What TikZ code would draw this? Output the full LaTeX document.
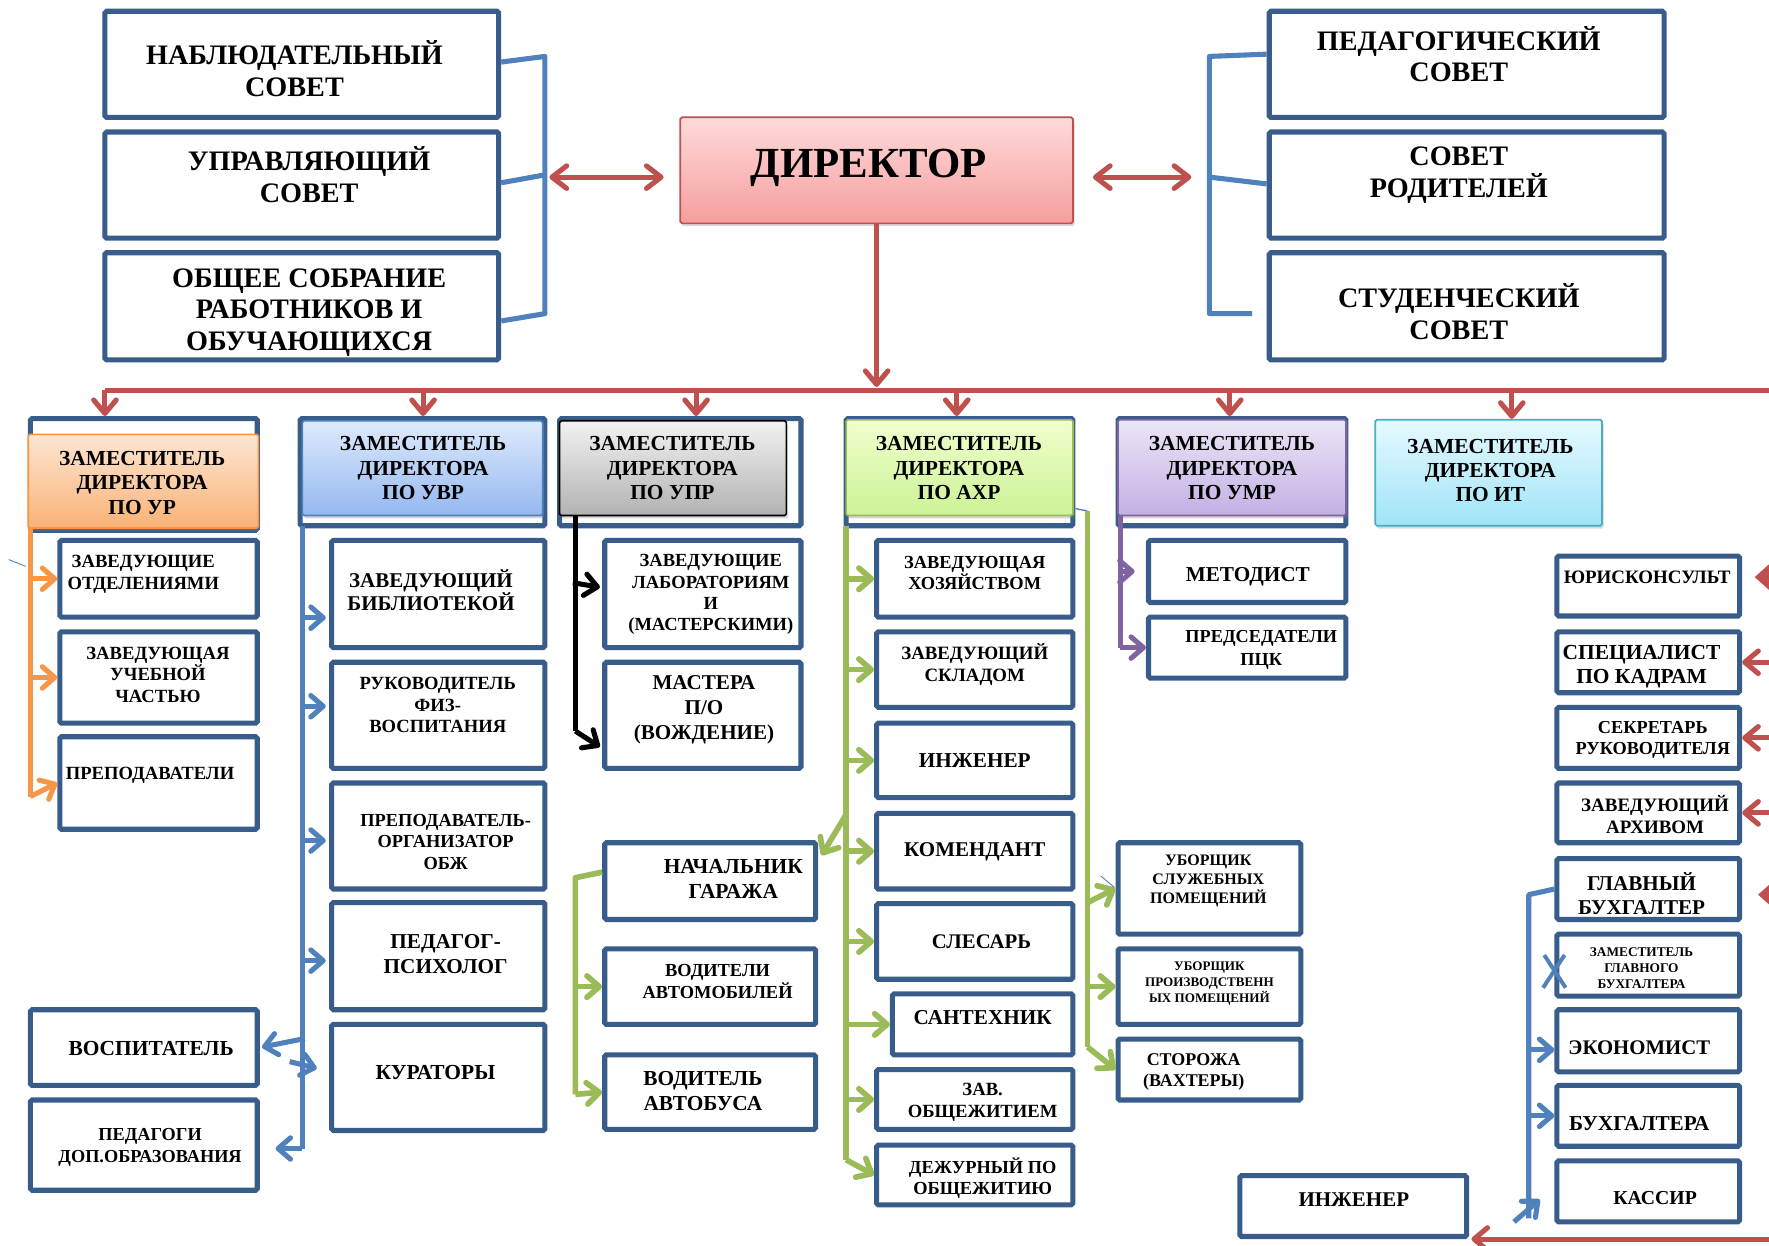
\documentclass[tikz,border=0pt]{standalone}
\usepackage{fontspec}
\setmainfont{Liberation Serif}
\usetikzlibrary{arrows.meta,calc,shadows}
\definecolor{boxc}{RGB}{56,93,138}
\definecolor{bluel}{RGB}{79,129,189}
\definecolor{redl}{RGB}{192,80,77}
\definecolor{orl}{RGB}{247,150,70}
\definecolor{grl}{RGB}{155,187,89}
\definecolor{purl}{RGB}{128,100,162}
\definecolor{cyl}{RGB}{75,172,198}
\definecolor{ur1}{RGB}{253,230,212}\definecolor{ur2}{RGB}{250,178,118}
\definecolor{uv1}{RGB}{222,234,252}\definecolor{uv2}{RGB}{148,184,240}
\definecolor{gy1}{RGB}{242,242,242}\definecolor{gy2}{RGB}{178,178,178}
\definecolor{ax1}{RGB}{240,255,205}\definecolor{ax2}{RGB}{204,242,150}
\definecolor{um1}{RGB}{236,229,246}\definecolor{um2}{RGB}{194,176,228}
\definecolor{it1}{RGB}{230,249,254}\definecolor{it2}{RGB}{160,228,248}
\definecolor{dr1}{RGB}{255,218,218}\definecolor{dr2}{RGB}{245,158,158}
\newcommand\fs[2]{\fontsize{#1}{#2}\selectfont\bfseries}
\newcommand\bx[6][box]{\node[bxbase,#1,minimum width={#5-#3},minimum height={#6-#4}] (#2) at ({(#3+#5)/2},{(#4+#6)/2}) {};}
\newcommand\tx[5][]{\node[txt,#1] (#2) at (#3,#4) {#5};}
\tikzset{
  bxbase/.style={inner sep=0pt, rounded corners=1.5pt},
  box/.style={draw=boxc, line width=4.5pt, fill=white},
  txt/.style={align=center, inner sep=0pt, text=black},
  arrb/.style={-{Straight Barb[length=11pt,width=19pt,round]}},
  rarr/.style={-{Straight Barb[length=12pt,width=20pt,round]}},
  red2/.style={draw=redl, line width=4.5pt, {Straight Barb[length=13pt,width=20pt,round]}-{Straight Barb[length=13pt,width=20pt,round]}},
  bline/.style={draw=bluel, line width=4.5pt, line join=round},
  rline/.style={draw=redl, line width=4.5pt, line join=round},
  oline/.style={draw=orl, line width=4.5pt, line join=round},
  gline/.style={draw=grl, line width=5pt, line join=round},
  kline/.style={draw=black, line width=4.5pt, line join=round},
  pline/.style={draw=purl, line width=4.5pt, line join=round},
  dep/.style={line width=1.5pt, drop shadow={opacity=0.3,shadow xshift=1.5pt,shadow yshift=-2.5pt}},
  ursty/.style={dep, draw=orl, top color=ur1, bottom color=ur2},
  uvsty/.style={dep, draw=bluel, top color=uv1, bottom color=uv2},
  gysty/.style={dep, draw=black, top color=gy1, bottom color=gy2},
  axsty/.style={dep, draw=grl, top color=ax1, bottom color=ax2},
  umsty/.style={dep, draw=purl, top color=um1, bottom color=um2},
  itsty/.style={dep, draw=cyl, top color=it1, bottom color=it2},
  dirsty/.style={dep, draw=redl, top color=dr1, bottom color=dr2},
  deptx/.style={font=\fs{19}{21.5}},
  bigtx/.style={font=\fs{25}{28}},
}
\begin{document}
\begin{tikzpicture}[x=1pt,y=-1pt]
\useasboundingbox (0,0) rectangle (1568,1104);
\fill[white] (0,0) rectangle (1568,1104);

% ---------- top boxes ----------
\bx{nab}{93}{10}{442}{104}
\tx[bigtx]{nabt}{261}{61}{НАБЛЮДАТЕЛЬНЫЙ\\СОВЕТ}
\bx{upc}{93}{117}{442}{211}
\tx[bigtx]{upct}{274}{155}{УПРАВЛЯЮЩИЙ\\СОВЕТ}
\bx{obs}{93}{224}{442}{319}
\tx[bigtx]{obst}{274}{277}{ОБЩЕЕ СОБРАНИЕ\\РАБОТНИКОВ И\\ОБУЧАЮЩИХСЯ}
\bx{ped}{1125}{10}{1475}{104}
\tx[bigtx]{pedt}{1293}{48}{ПЕДАГОГИЧЕСКИЙ\\СОВЕТ}
\bx{rod}{1125}{117}{1475}{211}
\tx[bigtx]{rodt}{1293}{155}{СОВЕТ\\РОДИТЕЛЕЙ}
\bx{stu}{1125}{224}{1475}{319}
\tx[bigtx]{stut}{1293}{276}{СТУДЕНЧЕСКИЙ\\СОВЕТ}

\bx[dirsty]{dir}{603}{104}{951}{198}
\tx[font=\fs{38}{40}]{dirt}{770}{149}{ДИРЕКТОР}

% brackets
\coordinate (lb1) at (483,50);
\coordinate (lb2) at (483,155);
\coordinate (lb3) at (483,278);
\draw[bline] ($(nab.east)+(0,-2)$) -- (lb1) -- (lb3) -- ($(obs.east)+(0,13)$);
\draw[bline] ($(upc.east)+(0,-2)$) -- (lb2);
\draw[red2] ($(lb2)+(4,2)$) -- ($(dir.west)+(-14,6)$);

\coordinate (rb1) at (1072,50);
\coordinate (rb2) at (1072,157);
\coordinate (rb3) at (1072,278);
\draw[bline] ($(ped.west)+(0,-9)$) -- (rb1) -- (rb3) -- ($(stu.west)+(-13,6.5)$);
\draw[bline] ($(rod.west)+(0,-1)$) -- (rb2);
\draw[red2] ($(dir.east)+(17,6)$) -- ($(rb2)+(-16,0)$);

% ---------- deputies ----------
\bx{urf}{27}{371}{228}{470}
\bx[ursty]{ur}{25}{385}{229}{468}
\tx[deptx]{urt}{126}{428}{ЗАМЕСТИТЕЛЬ\\ДИРЕКТОРА\\ПО УР}

\bx{uvrf}{266}{371}{483}{466}
\bx[uvsty]{uvr}{268}{373}{481}{457}
\tx[deptx]{uvrt}{375}{415}{ЗАМЕСТИТЕЛЬ\\ДИРЕКТОРА\\ПО УВР}

\bx{uprf}{496}{371}{710}{466}
\bx[gysty]{upr}{496}{373}{697}{457}
\tx[deptx]{uprt}{596}{415}{ЗАМЕСТИТЕЛЬ\\ДИРЕКТОРА\\ПО УПР}

\bx{axrf}{750}{371}{951}{466}
\bx[axsty]{axr}{750}{372}{951}{457}
\tx[deptx]{axrt}{850}{415}{ЗАМЕСТИТЕЛЬ\\ДИРЕКТОРА\\ПО АХР}

\bx{umrf}{991}{371}{1193}{466}
\bx[umsty]{umr}{991}{372}{1193}{457}
\tx[deptx]{umrt}{1092}{415}{ЗАМЕСТИТЕЛЬ\\ДИРЕКТОРА\\ПО УМР}

\bx[itsty]{it}{1219}{372}{1420}{466}
\tx[deptx]{itt}{1321}{417}{ЗАМЕСТИТЕЛЬ\\ДИРЕКТОРА\\ПО ИТ}

% red bus
\coordinate (bj) at (777,346);
\coordinate (b1) at (93,346);
\coordinate (b2) at (375,346);
\coordinate (b3) at (617,346);
\coordinate (b4) at (848,346);
\coordinate (b5) at (1090,346);
\coordinate (b6) at (1340,346);
\coordinate (bR) at (1600,346);
\draw[rline] (b1) -- (bR);
\draw[rline,rarr] (dir.south) -- ($(bj)+(0,-3)$);
\draw[rline,rarr] (b1) -- (b1 |- urf.north);
\draw[rline,rarr] (b2) -- (b2 |- uvrf.north);
\draw[rline,rarr] (b3) -- (b3 |- uprf.north);
\draw[rline,rarr] (b4) -- (b4 |- axrf.north);
\draw[rline,rarr] (b5) -- (b5 |- umrf.north);
\draw[rline,rarr] (b6) -- (b6 |- it.north);

% ---------- УР ----------
\bx{zo}{53}{479}{228}{547}
\tx[font=\fs{16.5}{19}]{zot}{127}{509}{ЗАВЕДУЮЩИЕ\\ОТДЕЛЕНИЯМИ}
\bx{zu}{53}{560}{228}{641}
\tx[font=\fs{16.5}{19}]{zut}{140}{598}{ЗАВЕДУЮЩАЯ\\УЧЕБНОЙ\\ЧАСТЬЮ}
\bx{pr}{53}{653}{228}{735}
\tx[font=\fs{16.5}{19}]{prt}{133}{687}{ПРЕПОДАВАТЕЛИ}
\coordinate (oT) at (27,468);
\coordinate (oB) at (27,706);
\draw[oline] (oT) -- (oB);
\draw[oline,arrb] (oT |- zo.west) -- (zo.west);
\draw[oline,arrb] (oT |- zu.west) -- (zu.west);
\draw[oline,arrb] (oB) -- (pr.west);
\draw[bluel,line width=0.8pt] ($(zo.west)+(-43,-17)$) -- ($(zo.west)+(-28,-11)$);

% ---------- УВР ----------
\bx{bib}{294}{479}{483}{574}
\tx[font=\fs{18.6}{21}]{bibt}{382}{523}{ЗАВЕДУЮЩИЙ\\БИБЛИОТЕКОЙ}
\bx{fiz}{294}{587}{483}{681}
\tx[font=\fs{16.5}{19}]{fizt}{388}{625}{РУКОВОДИТЕЛЬ\\ФИЗ-\\ВОСПИТАНИЯ}
\bx{obz}{294}{694}{483}{788}
\tx[font=\fs{16.3}{19}]{obzt}{395}{746}{ПРЕПОДАВАТЕЛЬ-\\ОРГАНИЗАТОР\\ОБЖ}
\bx{psy}{294}{800}{483}{895}
\tx[font=\fs{18.8}{22}]{psyt}{395}{846}{ПЕДАГОГ-\\ПСИХОЛОГ}
\bx{kur}{294}{908}{483}{1002}
\tx[font=\fs{19}{22}]{kurt}{386}{951}{КУРАТОРЫ}
\bx{vos}{27}{895}{228}{962}
\tx[font=\fs{19}{22}]{vost}{134}{929}{ВОСПИТАТЕЛЬ}
\bx{pdo}{27}{975}{228}{1055}
\tx[font=\fs{16.2}{19}]{pdot}{133}{1017}{ПЕДАГОГИ\\ДОП.ОБРАЗОВАНИЯ}
\coordinate (uT) at (268,466);
\coordinate (uB) at (268,1018);
\draw[bline] (uT) -- (uB);
\draw[bline,arrb,shorten >=3pt] ($(bib.west)+(-26,21)$) -- ($(bib.west)+(0,21)$);
\draw[bline,arrb,shorten >=3pt] ($(fiz.west)+(-26,-8)$) -- ($(fiz.west)+(0,-8)$);
\draw[bline,arrb,shorten >=3pt] ($(obz.west)+(-26,4)$) -- ($(obz.west)+(0,4)$);
\draw[bline,arrb,shorten >=3pt] ($(psy.west)+(-26,4)$) -- ($(psy.west)+(0,4)$);
\draw[bline,arrb] ($(kur.west)+(-35,-14)$) -- ($(kur.west)+(-11,-8)$);
\draw[bline,arrb,shorten >=2pt] ($(vos.east)+(40,-8)$) -- (vos.east);
\draw[bline,arrb,shorten >=14pt] (uB) -- ($(pdo.east)+(0,3)$);

% ---------- УПР ----------
\bx{lab}{536}{479}{710}{574}
\tx[font=\fs{16.4}{19}]{labt}{630}{527}{ЗАВЕДУЮЩИЕ\\ЛАБОРАТОРИЯМ\\И\\(МАСТЕРСКИМИ)}
\bx{mas}{536}{587}{710}{681}
\tx[font=\fs{18.7}{22}]{mast}{624}{629}{МАСТЕРА\\П/О\\(ВОЖДЕНИЕ)}
\coordinate (kT) at (510,457);
\coordinate (kB) at (510,648);
\draw[kline] (kT) -- (kB);
\draw[kline,arrb] ($(lab.west)+(-26,-10)$) -- ($(lab.west)+(-2,-6)$);
\draw[kline,arrb] (kB) -- ($(mas.west)+(-2,28)$);

\bx{gar}{536}{747}{723}{815}
\tx[font=\fs{19}{22}]{gart}{650}{779}{НАЧАЛЬНИК\\ГАРАЖА}
\bx{vav}{536}{841}{723}{908}
\tx[font=\fs{16.3}{19}]{vavt}{636}{870}{ВОДИТЕЛИ\\АВТОМОБИЛЕЙ}
\bx{vbu}{536}{935}{723}{1001}
\tx[font=\fs{18.9}{22}]{vbut}{623}{967}{ВОДИТЕЛЬ\\АВТОБУСА}
\coordinate (gT) at (510,778);
\coordinate (gB) at (510,970);
\draw[gline] ($(gar.west)+(0,-8)$) -- (gT) -- (gB);
\draw[gline,arrb] (gT |- vav.west) -- (vav.west);
\draw[gline,arrb] (gB) -- (vbu.west);

% ---------- АХР ----------
\bx{hoz}{777}{479}{951}{547}
\tx[font=\fs{16.3}{19}]{hozt}{864}{508}{ЗАВЕДУЮЩАЯ\\ХОЗЯЙСТВОМ}
\bx{skl}{777}{560}{951}{627}
\tx[font=\fs{16.7}{19}]{sklt}{864}{589}{ЗАВЕДУЮЩИЙ\\СКЛАДОМ}
\bx{ing}{777}{641}{951}{707}
\tx[font=\fs{18.8}{22}]{ingt}{864}{674}{ИНЖЕНЕР}
\bx{kom}{777}{721}{951}{788}
\tx[font=\fs{18.6}{22}]{komt}{864}{755}{КОМЕНДАНТ}
\bx{sle}{777}{801}{951}{868}
\tx[font=\fs{18.4}{22}]{slet}{870}{835}{СЛЕСАРЬ}
\bx{san}{791}{881}{951}{935}
\tx[font=\fs{18.8}{22}]{sant}{871}{902}{САНТЕХНИК}
\bx{zob}{777}{948}{951}{1001}
\tx[font=\fs{16.5}{19}]{zobt}{871}{977}{ЗАВ.\\ОБЩЕЖИТИЕМ}
\bx{dez}{777}{1015}{951}{1068}
\tx[font=\fs{16.3}{19}]{dezt}{871}{1044}{ДЕЖУРНЫЙ ПО\\ОБЩЕЖИТИЮ}
\coordinate (aT) at (750,466);
\coordinate (aB) at (750,1028);
\coordinate (aG) at (750,722);
\draw[gline] (aT) -- (aB);
\draw[gline,arrb] (aT |- hoz.west) -- (hoz.west);
\draw[gline,arrb] (aT |- skl.west) -- (skl.west);
\draw[gline,arrb] (aT |- ing.west) -- (ing.west);
\draw[gline,arrb] (aT |- kom.west) -- (kom.west);
\draw[gline,arrb] (aT |- sle.west) -- (sle.west);
\draw[gline,arrb] (aT |- san.west) -- (san.west);
\draw[gline,arrb] (aT |- zob.west) -- (zob.west);
\draw[gline,arrb] (aB) -- (dez.west);
\draw[gline,arrb] (aG) -- ($(gar.east)+(3,-23)$);

\bx{ubs}{991}{747}{1153}{828}
\tx[font=\fs{14.2}{17}]{ubst}{1071}{781}{УБОРЩИК\\СЛУЖЕБНЫХ\\ПОМЕЩЕНИЙ}
\bx{ubp}{991}{841}{1153}{908}
\tx[font=\fs{11.6}{14}]{ubpt}{1072}{872}{УБОРЩИК\\ПРОИЗВОДСТВЕНН\\ЫХ ПОМЕЩЕНИЙ}
\bx{sto}{991}{921}{1153}{975}
\tx[font=\fs{15.9}{19}]{stot}{1058}{950}{СТОРОЖА\\(ВАХТЕРЫ)}
\coordinate (a2T) at (964,453);
\coordinate (a2B) at (964,928);
\coordinate (a2U) at (964,800);
\draw[bluel,line width=1.2pt] ($(axrf.north east)+(0,82)$) -- (a2T);
\draw[gline] (a2T) -- (a2B);
\draw[gline,arrb] (a2U) -- (ubs.west);
\draw[gline,arrb] (a2T |- ubp.west) -- (ubp.west);
\draw[gline,arrb] (a2B) -- (sto.west);
\draw[bluel,line width=0.8pt] ($(ubs.west)+(-13,-11)$) -- ($(ubs.west)+(-1,-1)$);

% ---------- УМР ----------
\bx{met}{1018}{479}{1193}{534}
\tx[font=\fs{18.8}{22}]{mett}{1106}{511}{МЕТОДИСТ}
\bx{pck}{1018}{547}{1193}{601}
\tx[font=\fs{16.2}{21}]{pckt}{1118}{576}{ПРЕДСЕДАТЕЛИ\\ПЦК}
\coordinate (pT) at (993,457);
\coordinate (pB) at (993,574);
\draw[pline] (pT) -- (pB);
\draw[pline,arrb,shorten >=10pt] (pT |- met.west) -- (met.west);
\draw[pline,arrb] (pB) -- (pck.west);

% ---------- ИТ ----------
\bx{yur}{1380}{493}{1542}{546}
\tx[font=\fs{16.8}{20}]{yurt}{1460}{512}{ЮРИСКОНСУЛЬТ}
\bx{spc}{1380}{560}{1542}{614}
\tx[font=\fs{19}{22}]{spct}{1455}{591}{СПЕЦИАЛИСТ\\ПО КАДРАМ}
\bx{sek}{1380}{627}{1542}{681}
\tx[font=\fs{16.2}{19}]{sekt}{1465}{656}{СЕКРЕТАРЬ\\РУКОВОДИТЕЛЯ}
\bx{arh}{1380}{694}{1542}{747}
\tx[font=\fs{16.8}{19}]{arht}{1467}{722}{ЗАВЕДУЮЩИЙ\\АРХИВОМ}
\bx{glb}{1380}{761}{1542}{815}
\tx[font=\fs{18.7}{22}]{glbt}{1455}{792}{ГЛАВНЫЙ\\БУХГАЛТЕР}
\bx{zgb}{1380}{828}{1542}{883}
\tx[font=\fs{11.8}{14}]{zgbt}{1455}{858}{ЗАМЕСТИТЕЛЬ\\ГЛАВНОГО\\БУХГАЛТЕРА}
\bx{eco}{1380}{895}{1542}{950}
\tx[font=\fs{18.4}{22}]{ecot}{1453}{929}{ЭКОНОМИСТ}
\bx{bux}{1380}{962}{1542}{1016}
\tx[font=\fs{18.8}{22}]{buxt}{1453}{996}{БУХГАЛТЕРА}
\bx{kas}{1380}{1029}{1542}{1083}
\tx[font=\fs{17.5}{22}]{kast}{1467}{1062}{КАССИР}
\bx{ink}{1099}{1042}{1300}{1096}
\tx[font=\fs{18.6}{22}]{inkt}{1200}{1063}{ИНЖЕНЕР}

\coordinate (iT) at (1355,793);
\coordinate (iB) at (1355,1080);
\draw[bline] (glb.west) -- (iT) -- (iB);
\draw[bline,arrb] ($(iT |- eco.west)+(0,8)$) -- ($(eco.west)+(0,8)$);
\draw[bline,arrb] (iT |- bux.west) -- (bux.west);
\draw[bline,arrb] ($(iB)+(-13,3)$) -- ($(kas.south west)+(-13,-22)$);
\draw[bline,line width=3.5pt] ($(zgb.west)+(-9,-9)$) -- ($(zgb.west)+(10,20)$);
\draw[bline,line width=3.5pt] ($(zgb.west)+(9,-9)$) -- ($(zgb.west)+(-10,20)$);

% red arrows from the right edge
\draw[rline,-{Triangle[length=14pt,width=24pt]}] ($(yur.east)+(60,-8)$) -- ($(yur.east)+(11,-8)$);
\draw[rline,rarr] ($(spc.east)+(60,0)$) -- (spc.east);
\draw[rline,rarr] ($(sek.east)+(60,0)$) -- (sek.east);
\draw[rline,rarr] ($(arh.east)+(60,0)$) -- (arh.east);
\draw[rline,-{Triangle[length=14pt,width=24pt]}] ($(glb.east)+(60,5)$) -- ($(glb.east)+(14,5)$);
\draw[rline,rarr] ($(ink.south east)+(300,0)$) -- ($(ink.south east)+(2,0)$);
\end{tikzpicture}
\end{document}
